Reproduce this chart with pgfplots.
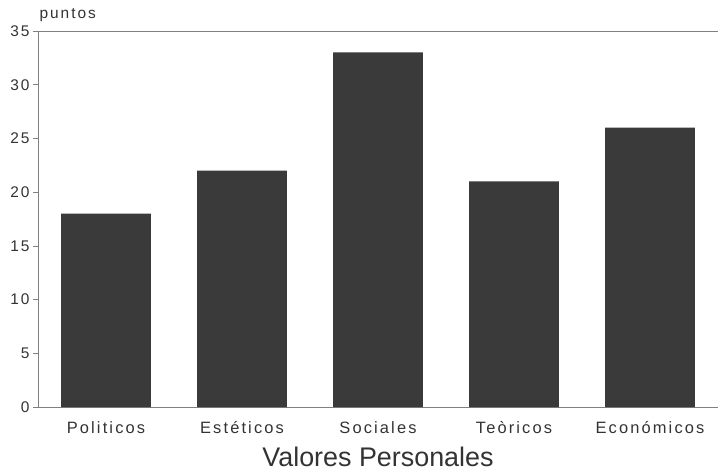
\documentclass[border=0pt]{standalone}
\usepackage{pgfplots}
\pgfplotsset{compat=1.18}
\usepackage{fontspec}
\setmainfont{Liberation Sans}
\newfontfamily\spaced[LetterSpace=13]{Liberation Sans}
\definecolor{bar}{HTML}{3A3A3A}
\definecolor{txt}{HTML}{333333}
\begin{document}
\begin{tikzpicture}
\begin{axis}[
  scale only axis,
  width=680bp, height=376bp,
  xmin=-0.5, xmax=4.5, ymin=0, ymax=35,
  axis lines=left,
  axis line style={-, draw=black!50, line width=0.7pt},
  ytick={0,5,...,35},
  xtick={0,1,2,3,4},
  xticklabels={Politicos, Estéticos, Sociales, Teòricos, Económicos},
  x tick style={draw=none},
  y tick style={draw=black!50, line width=0.6pt},
  tick align=outside,
  major tick length=5bp,
  tick label style={font=\spaced\fontsize{15.5}{18}\selectfont, text=txt},
  x tick label style={font=\spaced\fontsize{16.5}{18}\selectfont, anchor=base, yshift=-21bp},
  /pgf/number format/assume math mode=true,
  extra y ticks={35},
  extra y tick labels={},
  extra y tick style={grid=major, major grid style={draw=black!50, line width=0.7pt}},
  xlabel={Valores Personales},
  every axis x label/.style={at={(rel axis cs:0.5,0)}, anchor=base, yshift=-59bp, font=\fontsize{27}{30}\selectfont, text=txt},
  ylabel={puntos},
  every axis y label/.style={at={(rel axis cs:0,1)}, anchor=base west, xshift=-2bp, yshift=12bp, font=\spaced\fontsize{15.5}{18}\selectfont, text=txt},
  ybar, bar width=0.66, bar shift=0pt,
]
\addplot[fill=bar, draw=none] coordinates {(0,18) (1,22) (2,33) (3,21) (4,26)};
\coordinate (o) at (rel axis cs:0,0);
\coordinate (t) at (rel axis cs:1,1);
\end{axis}
\pgfresetboundingbox
\path ([shift={(-38bp,-66bp)}]o) rectangle ([shift={(0bp,31bp)}]t);
\end{tikzpicture}
\end{document}
